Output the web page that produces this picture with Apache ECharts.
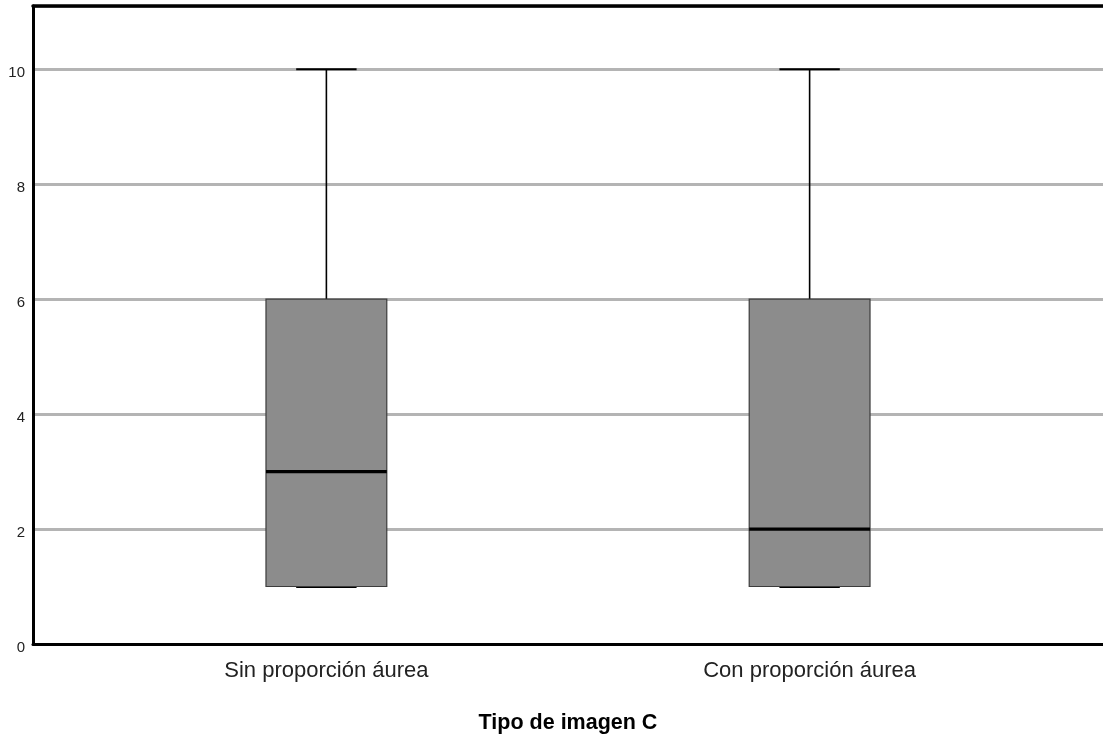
<!DOCTYPE html>
<html>
<head>
<meta charset="utf-8">
<script src="https://cdn.jsdelivr.net/npm/echarts@6/dist/echarts.min.js"></script>
<style>
  html, body { margin: 0; padding: 0; background: #fff; }
  #chart { width: 1103px; height: 739px; }
</style>
</head>
<body>
<div id="chart"></div>
<script>
// ---- data ----
const categories = ['Sin proporción áurea', 'Con proporción áurea'];
const lowerWhisker = [1, 1];
const q1 = [1, 1];
const median = [3, 2];
const q3 = [6, 6];
const upperWhisker = [10, 10];
const yTicks = [0, 2, 4, 6, 8, 10];
const xTitle = 'Tipo de imagen C';

// category slots (the original plot area is wider than the visible crop)
const slotCount = 31;
const slotIndex = [8, 22];

const axisCats = [];
for (let i = 0; i < slotCount; i++) axisCats.push('');
slotIndex.forEach((s, k) => { axisCats[s] = categories[k]; });

const seriesData = categories.map((c, k) => [slotIndex[k], lowerWhisker[k], q1[k], median[k], q3[k], upperWhisker[k]]);

const chart = echarts.init(document.getElementById('chart'), null, { renderer: 'canvas' });

const FONT = 'Liberation Sans, Arial, sans-serif';

const option = {
  animation: false,
  backgroundColor: '#ffffff',
  grid: {
    left: 33, top: 6, height: 640, width: 1074, show: false
  },
  xAxis: [{
    type: 'category',
    data: axisCats,
    boundaryGap: true,
    position: 'bottom',
    z: 10,
    axisLine: { show: true, lineStyle: { color: '#000', width: 3 } },
    axisTick: { show: false },
    axisLabel: {
      interval: 0, margin: 16, fontSize: 22, color: '#222', fontFamily: FONT
    },
    splitLine: { show: false },
    name: xTitle,
    nameLocation: 'middle',
    nameGap: 68,
    nameTextStyle: { fontSize: 21.5, fontWeight: 'bold', color: '#000', fontFamily: FONT }
  }, {
    type: 'category',
    data: axisCats,
    position: 'top',
    z: 10,
    axisLine: { show: true, lineStyle: { color: '#000', width: 3.5 } },
    axisTick: { show: false },
    axisLabel: { show: false },
    splitLine: { show: false }
  }],
  yAxis: {
    type: 'value',
    min: 0, max: 11.1, interval: 2,
    z: 1,
    axisLine: { show: true, lineStyle: { color: '#000', width: 3 } },
    axisTick: { show: false },
    axisLabel: {
      margin: 8, fontSize: 15, color: '#222', showMaxLabel: false,
      verticalAlign: 'top', lineHeight: 8,
      fontFamily: FONT,
      formatter: v => (yTicks.indexOf(v) >= 0 ? String(v) : '')
    },
    splitLine: { show: true, lineStyle: { color: '#b4b4b4', width: 3 } }
  },
  series: [{
    type: 'custom',
    xAxisIndex: 0,
    data: seriesData,
    encode: { x: 0, y: [1, 2, 3, 4, 5] },
    z: 5,
    renderItem: function (params, api) {
      const x = api.value(0);
      const pLo = api.coord([x, api.value(1)]);
      const pQ1 = api.coord([x, api.value(2)]);
      const pMed = api.coord([x, api.value(3)]);
      const pQ3 = api.coord([x, api.value(4)]);
      const pHi = api.coord([x, api.value(5)]);
      const band = api.size([1, 0])[0];
      const bw = band * 3.5;
      const cw = bw / 2;
      const cx = pMed[0];
      const whiskerStyle = { stroke: '#000', lineWidth: 1.6 };
      const capStyle = { stroke: '#000', lineWidth: 2 };
      return {
        type: 'group',
        children: [
          { type: 'line', shape: { x1: cx, y1: pHi[1], x2: cx, y2: pQ3[1] }, style: whiskerStyle },
          { type: 'line', shape: { x1: cx, y1: pLo[1], x2: cx, y2: pQ1[1] }, style: whiskerStyle },
          { type: 'line', shape: { x1: cx - cw / 2, y1: pHi[1], x2: cx + cw / 2, y2: pHi[1] }, style: capStyle },
          { type: 'line', shape: { x1: cx - cw / 2, y1: pLo[1] + 0.5, x2: cx + cw / 2, y2: pLo[1] + 0.5 }, style: capStyle },
          { type: 'rect', shape: { x: cx - bw / 2, y: pQ3[1], width: bw, height: pQ1[1] - pQ3[1] },
            style: { fill: '#8c8c8c', stroke: '#3c3c3c', lineWidth: 1.2 } },
          { type: 'line', shape: { x1: cx - bw / 2, y1: pMed[1], x2: cx + bw / 2, y2: pMed[1] },
            style: { stroke: '#000', lineWidth: 3.2 } }
        ]
      };
    }
  }]
};
chart.setOption(option);
</script>
</body>
</html>
